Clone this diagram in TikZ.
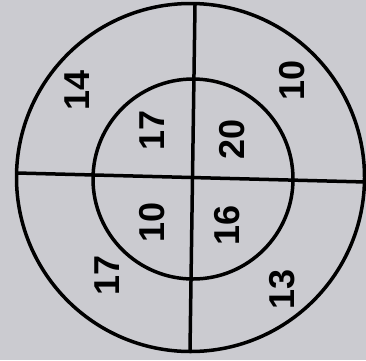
\documentclass[tikz,border=0pt]{standalone}
\usepackage{fontspec}
\setmainfont{Liberation Sans}
\definecolor{bg}{RGB}{203,203,208}
\begin{document}
\begin{tikzpicture}[x=1pt,y=-1pt,
  ring/.style={circle,draw=black,line width=3.5pt,inner sep=0pt},
  bar/.style={line width=3.5pt},
  num/.style={font=\fontsize{36}{36}\selectfont\bfseries,rotate=90,inner sep=0pt}]
\fill[bg] (0,0) rectangle (366,360);
\useasboundingbox (0,0) rectangle (366,360);
\node[ring,minimum size=348pt] (outer) at (190.5,177.5) {};
\node[ring,minimum size=200pt] (inner) at (193,179) {};
\coordinate (L) at (17,173);
\coordinate (R) at (366,182);
\coordinate (T) at (195,5);
\coordinate (B) at (190,350);
\draw[bar] (L) -- (R);
\draw[bar] (T) -- (B);
\node[num] (a) at (77,90) {14};
\node[num] (b) at (292,80) {10};
\node[num] (c) at (152,130) {17};
\node[num] (d) at (232,139) {20};
\node[num] (e) at (152,222) {10};
\node[num] (f) at (227,225) {16};
\node[num] (g) at (107,275) {17};
\node[num] (h) at (282,289) {13};
\end{tikzpicture}
\end{document}
